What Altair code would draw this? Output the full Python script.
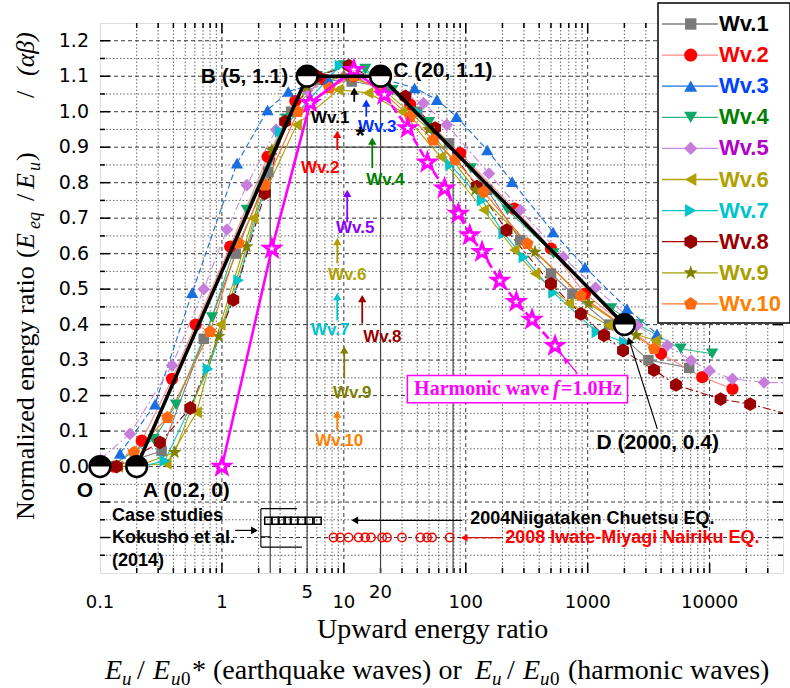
import altair as alt
import pandas as pd

# ---------------- data ----------------
NAMES = ["Wv.1", "Wv.2", "Wv.3", "Wv.4", "Wv.5", "Wv.6", "Wv.7", "Wv.8", "Wv.9", "Wv.10"]

X1 = [0.13, 0.32, 0.71, 1.3, 2.4, 3.7, 6.5, 11.6, 22, 40, 73, 150, 280, 500, 750, 1500, 3150, 6800]
Y1 = [0.0, 0.044, 0.36, 0.60, 0.83, 1.0, 1.09, 1.085, 1.07, 1.0, 0.911, 0.78, 0.638, 0.544, 0.487, 0.40, 0.30, 0.278]
X2 = [0.13, 0.22, 0.39, 0.61, 1.17, 2.37, 4.0, 7, 12, 20, 35, 90, 250, 500, 950, 2000, 4000, 8700, 15400]
Y2 = [0.0, 0.073, 0.247, 0.40, 0.62, 0.873, 1.03, 1.09, 1.10, 1.08, 1.02, 0.883, 0.727, 0.614, 0.487, 0.40, 0.318, 0.252, 0.219]
X3 = [0.146, 0.283, 0.57, 1.33, 2.37, 3.5, 7.5, 12, 22, 38, 58, 84, 150, 240, 520, 950, 2100, 3700]
Y3 = [0.037, 0.176, 0.49, 0.855, 1.005, 1.057, 1.09, 1.11, 1.09, 1.067, 1.034, 0.986, 0.892, 0.803, 0.661, 0.562, 0.445, 0.374]
X4 = [0.12, 0.275, 0.42, 0.83, 1.6, 3.36, 6, 10, 15, 25, 50, 110, 220, 525, 1560, 2600, 5800, 10500]
Y4 = [0.0, 0.077, 0.174, 0.42, 0.723, 0.98, 1.10, 1.13, 1.12, 1.06, 0.97, 0.84, 0.723, 0.60, 0.445, 0.40, 0.332, 0.318]
X5 = [0.1, 0.176, 0.39, 0.71, 1.1, 1.6, 2.78, 5, 10, 20, 45, 70, 155, 280, 630, 1160, 2540, 4500, 7050, 10000, 15400, 28000, 48000]
Y5 = [0.02, 0.092, 0.285, 0.50, 0.668, 0.793, 0.949, 1.06, 1.10, 1.08, 1.024, 0.963, 0.826, 0.723, 0.59, 0.504, 0.398, 0.341, 0.299, 0.27, 0.247, 0.237, 0.236]
X6 = [0.14, 0.35, 0.62, 0.97, 1.8, 4.1, 9, 15.8, 30, 62, 140, 250, 370, 700, 1480, 3600]
Y6 = [0.0, 0.008, 0.153, 0.40, 0.70, 0.963, 1.062, 1.053, 1.0, 0.873, 0.723, 0.61, 0.544, 0.46, 0.398, 0.355]
X7 = [0.22, 0.34, 0.77, 1.37, 3.0, 9.3, 20, 40, 75, 136, 205, 300, 525, 1190, 2000]
Y7 = [0.0, 0.016, 0.275, 0.525, 0.944, 1.13, 1.10, 1.0, 0.85, 0.75, 0.657, 0.59, 0.49, 0.379, 0.35]
X8 = [0.137, 0.31, 0.55, 1.24, 2.25, 3.3, 6, 11, 32, 56, 123, 216, 500, 880, 1360, 1950, 3500, 5300, 12300, 21500, 50000]
Y8 = [0.0, 0.068, 0.165, 0.47, 0.77, 0.972, 1.10, 1.13, 1.043, 0.954, 0.789, 0.666, 0.515, 0.43, 0.37, 0.327, 0.272, 0.23, 0.19, 0.176, 0.143]
X9 = [0.2, 0.41, 0.94, 1.6, 2.57, 5, 10, 20, 50, 120, 370, 1020, 2500]
Y9 = [0.0, 0.04, 0.367, 0.62, 0.892, 1.07, 1.10, 1.07, 0.95, 0.78, 0.605, 0.46, 0.37]
X10 = [0.19, 0.357, 0.8, 1.37, 2.25, 4.2, 7.6, 12, 20, 35, 54, 82, 140, 320, 880, 3500]
Y10 = [0.04, 0.138, 0.38, 0.63, 0.793, 1.0, 1.067, 1.10, 1.06, 0.986, 0.92, 0.864, 0.774, 0.628, 0.482, 0.332]
SER_X = [X1, X2, X3, X4, X5, X6, X7, X8, X9, X10]
SER_Y = [Y1, Y2, Y3, Y4, Y5, Y6, Y7, Y8, Y9, Y10]

HARM_X = [1.0, 2.57, 5.3, 12.1, 21.5, 33.4, 48.5, 67, 87, 108, 136, 190, 260, 350, 540]
HARM_Y = [0.0, 0.614, 1.025, 1.118, 1.048, 0.954, 0.857, 0.784, 0.713, 0.652, 0.605, 0.524, 0.464, 0.414, 0.34]

REF_X = [0.2, 5, 20, 2000]
REF_Y = [0.0, 1.1, 1.1, 0.4]
KEY_X = [0.1, 0.2, 5, 20, 2000]
KEY_Y = [0.0, 0.0, 1.1, 1.1, 0.4]
KEY_TEXT = ["O", "A (0.2, 0)", "B (5, 1.1)", "C (20, 1.1)", "D (2000, 0.4)"]
KEY_TX = [0.0753, 0.2255, 3.5, 25.4, 1180]
KEY_TY = [-0.069, -0.069, 1.099, 1.116, 0.067]
KEY_ALIGN = ["center", "left", "right", "left", "left"]

NIIGATA_X = [2.4, 2.75, 3.1, 3.45, 3.9, 4.5, 5.2, 6.1]
NIIGATA_Y = [-0.153] * 8
IWATE_X = [8.23, 9.34, 10.93, 13.2, 14.98, 16.7, 20.6, 22.6, 30, 42.4, 48.1, 52.9, 73.8]
IWATE_Y = [-0.2] * 13

WV_TX = [7.73, 6.4, 18.8, 21.9, 12.4, 10.66, 7.73, 20.7, 11.7, 9.16]
WV_TY = [0.983, 0.841, 0.957, 0.807, 0.672, 0.539, 0.384, 0.364, 0.206, 0.073]
WV_AX = [12.17, 8.83, 15.27, 17.11, 10.66, 8.83, 8.83, 14.16, 10.08, 8.83]
WV_AY1 = [1.028, 0.892, 0.986, 0.841, 0.688, 0.573, 0.412, 0.403, 0.248, 0.101]
WV_AY2 = [1.070, 0.948, 1.036, 0.929, 0.782, 0.646, 0.491, 0.485, 0.341, 0.160]

XLABELS = [0.1, 1, 10, 100, 1000, 10000]
XLABEL_TEXT = ["0.1", "1", "10", "100", "1000", "10000"]
XLABELS_EXTRA = [5, 20]
YLABELS = [round(0.1 * i, 1) for i in range(13)]

# ---------------- styles ----------------
W, H = 683, 550
XS = alt.Scale(type="log", domain=[0.1, 40000])
YS = alt.Scale(domain=[-0.3, 1.25])

HEX = "M0,-1L0.866,-0.5L0.866,0.5L0,1L-0.866,0.5L-0.866,-0.5Z"
PENT = "M0,-1L0.951,-0.309L0.588,0.809L-0.588,0.809L-0.951,-0.309Z"
STAR = ("M0,-1L0.235,-0.324L0.951,-0.309L0.380,0.124L0.588,0.809L0,0.4"
        "L-0.588,0.809L-0.380,0.124L-0.951,-0.309L-0.235,-0.324Z")
HALF_TOP = "M-1,0A1,1,0,0,1,1,0Z"

SHAPES = ["square", "circle", "triangle-up", "triangle-down", "diamond",
          "triangle-left", "triangle-right", HEX, STAR, PENT]
SIZES = [110, 150, 150, 150, 160, 150, 150, 190, 210, 175]
FILLS = ["#7a7a7a", "#ff0000", "#1a6fe0", "#10a868", "#c77ddb",
         "#b0a000", "#00c4cc", "#990000", "#808000", "#ff6a10"]
LINES = ["#808080", "#ff8a8a", "#1a6fe0", "#30b880", "#c98ae0",
         "#b0a000", "#00c4cc", "#a00000", "#a0a000", "#ff7020"]
DASHES = [None, None, [6, 3], None, [8, 3, 2, 3], None, None, [8, 3, 2, 3], None, None]
LEG_COL = ["#000000", "#ff0000", "#0040ff", "#008000", "#b400c8",
           "#b0a000", "#00c4cc", "#990000", "#a8a000", "#ff8000"]
ANN_COL = ["#000000", "#ff0000", "#0033ff", "#008000", "#8a00ff",
           "#b0a000", "#00c4cc", "#990000", "#808000", "#ff8000"]
MAG = "#ff00ff"
SANS = "Liberation Sans"
SERIF = "Liberation Serif"

ONE = pd.DataFrame({"a": [0]})


def xq(f="x"):
    return alt.X(f"{f}:Q", scale=XS, axis=None)


def yq(f="y"):
    return alt.Y(f"{f}:Q", scale=YS, axis=None)


def df(**cols):
    return pd.DataFrame(cols)


def ptxt(px, py, s, size, font=SANS, weight="normal", style="normal",
         color="black", align="left", baseline="alphabetic", angle=0):
    return alt.Chart(pd.DataFrame({"t": [s]})).mark_text(
        align=align, baseline=baseline, fontSize=size, font=font,
        fontWeight=weight, fontStyle=style, color=color, angle=angle
    ).encode(x=alt.value(px), y=alt.value(py), text="t:N")


def dtxt(x, y, s, size, color="black", align="left", weight="bold", font=SANS, style="normal"):
    return alt.Chart(pd.DataFrame({"x": [x], "y": [y], "t": [s]})).mark_text(
        align=align, baseline="middle", fontSize=size, font=font,
        fontWeight=weight, fontStyle=style, color=color
    ).encode(x=xq(), y=yq(), text="t:N")


layers = []

# ---------------- grid ----------------
xmin = [m * 10.0 ** k for k in range(-1, 5) for m in range(2, 10) if m * 10.0 ** k < 40000]
xmaj = [1, 10, 100, 1000, 10000]
ymaj = [round(-0.2 + 0.1 * i, 2) for i in range(15)]
ymin = [round(-0.25 + 0.1 * i, 2) for i in range(15)]

layers.append(alt.Chart(df(x=xmin)).mark_rule(color="#555555", strokeWidth=0.9, strokeDash=[1.5, 2])
              .encode(x=xq()))
layers.append(alt.Chart(df(y=ymin)).mark_rule(color="#555555", strokeWidth=0.9, strokeDash=[1.5, 2])
              .encode(y=yq()))
layers.append(alt.Chart(df(x=xmaj)).mark_rule(color="#222222", strokeWidth=0.9, strokeDash=[4, 3])
              .encode(x=xq()))
layers.append(alt.Chart(df(y=ymaj)).mark_rule(color="#222222", strokeWidth=0.9, strokeDash=[4, 3])
              .encode(y=yq()))

# inward ticks on all four sides
for xv, ln in ((xmaj, 10), (xmin, 5)):
    layers.append(alt.Chart(df(x=xv)).mark_rule(color="black", strokeWidth=1.5)
                  .encode(x=xq(), y=alt.value(H), y2=alt.value(H - ln)))
    layers.append(alt.Chart(df(x=xv)).mark_rule(color="black", strokeWidth=1.5)
                  .encode(x=xq(), y=alt.value(0), y2=alt.value(ln)))
for yv, ln in ((ymaj, 10), (ymin, 5)):
    layers.append(alt.Chart(df(y=yv)).mark_rule(color="black", strokeWidth=1.5)
                  .encode(y=yq(), x=alt.value(0), x2=alt.value(ln)))
    layers.append(alt.Chart(df(y=yv)).mark_rule(color="black", strokeWidth=1.5)
                  .encode(y=yq(), x=alt.value(W), x2=alt.value(W - ln)))

# tick labels
layers.append(alt.Chart(df(x=XLABELS, t=XLABEL_TEXT))
              .mark_text(baseline="middle", align="center", fontSize=18, font="DejaVu Sans", color="black")
              .encode(x=xq(), y=alt.value(H + 30), text="t:N"))
layers.append(alt.Chart(df(x=XLABELS_EXTRA, t=[str(v) for v in XLABELS_EXTRA]))
              .mark_text(baseline="middle", align="center", fontSize=18, font="DejaVu Sans", color="black")
              .encode(x=xq(), y=alt.value(H + 20), text="t:N"))
layers.append(alt.Chart(df(y=YLABELS, t=["%.1f" % v for v in YLABELS]))
              .mark_text(baseline="middle", align="right", fontSize=19, font="DejaVu Sans", color="black")
              .encode(y=yq(), x=alt.value(-11), text="t:N"))

# solid guide lines
VL_X = [2.49, 5, 20, 78.7]
VL_TOP = [0.9, 1.1, 1.1, 0.9]
layers.append(alt.Chart(df(x=VL_X, y=VL_TOP, y2=[-0.3] * 4)).mark_rule(color="#444444", strokeWidth=1.2)
              .encode(x=xq(), y=yq(), y2="y2:Q"))
layers.append(alt.Chart(df(x=[2.49], x2=[78.7], y=[0.9])).mark_rule(color="#444444", strokeWidth=1.2)
              .encode(x=xq(), x2="x2:Q", y=yq()))

# ---------------- series ----------------
for i in range(10):
    d = df(x=SER_X[i], y=SER_Y[i])
    lkw = dict(color=LINES[i], strokeWidth=1.1, clip=True)
    if DASHES[i]:
        lkw["strokeDash"] = DASHES[i]
    layers.append(alt.Chart(d).mark_line(**lkw).encode(x=xq(), y=yq(), order="x:Q"))
for i in range(10):
    d = df(x=SER_X[i], y=SER_Y[i])
    layers.append(alt.Chart(d).mark_point(shape=SHAPES[i], size=SIZES[i], filled=True, color=FILLS[i],
                                          opacity=1, strokeWidth=0, clip=True)
                  .encode(x=xq(), y=yq()))

# harmonic wave
hd = df(x=HARM_X, y=HARM_Y)
layers.append(alt.Chart(df(x=HARM_X[:5], y=HARM_Y[:5])).mark_line(color=MAG, strokeWidth=2.6)
              .encode(x=xq(), y=yq(), order="x:Q"))
layers.append(alt.Chart(df(x=HARM_X[4:], y=HARM_Y[4:])).mark_line(color=MAG, strokeWidth=2.6,
                                                                   strokeDash=[9, 4])
              .encode(x=xq(), y=yq(), order="x:Q"))
layers.append(alt.Chart(hd).mark_point(shape=STAR, size=260, filled=True, fill="white", stroke=MAG,
                                       strokeWidth=3, opacity=1)
              .encode(x=xq(), y=yq()))

# reference line O-A-B-C-D
layers.append(alt.Chart(df(x=REF_X, y=REF_Y)).mark_line(color="black", strokeWidth=3.5)
              .encode(x=xq(), y=yq(), order="x:Q"))

# ---------------- annotations ----------------
# D leader
layers.append(alt.Chart(df(x=[3724], x2=[2173], y=[0.106], y2=[0.36])).mark_rule(color="black", strokeWidth=1.2)
              .encode(x=xq(), x2="x2:Q", y=yq(), y2="y2:Q"))
layers.append(alt.Chart(df(x=[2190], y=[0.355])).mark_point(shape="triangle-up", size=70, filled=True,
                                                            color="black", opacity=1, angle=342)
              .encode(x=xq(), y=yq()))

# key points (half filled circles)
kd = df(x=KEY_X, y=KEY_Y)
layers.append(alt.Chart(kd).mark_point(shape="circle", size=430, filled=True, fill="white", stroke="black",
                                       strokeWidth=2.5, opacity=1)
              .encode(x=xq(), y=yq()))
layers.append(alt.Chart(kd).mark_point(shape=HALF_TOP, size=430, filled=True, color="black", opacity=1)
              .encode(x=xq(), y=yq()))
for t, x, y, a in zip(KEY_TEXT, KEY_TX, KEY_TY, KEY_ALIGN):
    layers.append(dtxt(x, y, t, 21, align=a))

# Wv.n labels with arrows
for i in range(10):
    layers.append(alt.Chart(df(x=[WV_AX[i]], y=[WV_AY1[i]], y2=[WV_AY2[i] - 0.02]))
                  .mark_rule(color=ANN_COL[i], strokeWidth=1.8).encode(x=xq(), y=yq(), y2="y2:Q"))
    layers.append(alt.Chart(df(x=[WV_AX[i]], y=[WV_AY2[i] - 0.012]))
                  .mark_point(shape="triangle-up", size=70, filled=True, color=ANN_COL[i], opacity=1)
                  .encode(x=xq(), y=yq()))
    layers.append(dtxt(WV_TX[i], WV_TY[i], NAMES[i], 17, color=ANN_COL[i], align="center"))
layers.append(dtxt(13.6, 0.93, "*", 24, align="center"))

# harmonic label box and leader
layers.append(alt.Chart(df(x=[33.2], x2=[2123], y=[0.2564], y2=[0.180]))
              .mark_rect(fill="white", stroke=MAG, strokeWidth=1.5)
              .encode(x=xq(), x2="x2:Q", y=yq(), y2="y2:Q"))
layers.append(alt.Chart(df(x=[824], x2=[576], y=[0.262], y2=[0.327])).mark_rule(color=MAG, strokeWidth=1.3)
              .encode(x=xq(), x2="x2:Q", y=yq(), y2="y2:Q"))
layers.append(alt.Chart(df(x=[660], y=[0.30])).mark_point(shape="triangle-up", size=45, filled=True,
                                                          color=MAG, opacity=1, angle=319)
              .encode(x=xq(), y=yq()))
layers.append(dtxt(37.7, 0.218, "Harmonic wave", 20, color=MAG, font=SERIF))
layers.append(dtxt(520, 0.218, "f", 20, color=MAG, font=SERIF, style="italic"))
layers.append(dtxt(605, 0.218, "=1.0Hz", 20, color=MAG, font=SERIF))

# case studies
layers.append(dtxt(0.1255, -0.139, "Case studies", 18))
layers.append(dtxt(0.1255, -0.2015, "Kokusho et al.", 18))
layers.append(dtxt(0.1255, -0.2665, "(2014)", 18))
layers.append(alt.Chart(df(x=[1.283], x2=[1.85], y=[-0.18])).mark_rule(color="black", strokeWidth=1.2)
              .encode(x=xq(), x2="x2:Q", y=yq()))
layers.append(alt.Chart(df(x=[1.85], y=[-0.18])).mark_point(shape="triangle-right", size=60, filled=True,
                                                            color="black", opacity=1)
              .encode(x=xq(), y=yq()))
layers.append(alt.Chart(df(x=[2.086, 2.086, 2.086, 2.086], x2=[2.086, 4.12, 4.53, 2.49],
                           y=[-0.1187, -0.1187, -0.227, -0.198], y2=[-0.227, -0.1187, -0.227, -0.198]))
              .mark_rule(color="black", strokeWidth=1.1)
              .encode(x=xq(), x2="x2:Q", y=yq(), y2="y2:Q"))
layers.append(alt.Chart(df(x=NIIGATA_X, y=NIIGATA_Y)).mark_point(shape="square", size=50, filled=False,
                                                                 color="black", strokeWidth=1.5, opacity=1)
              .encode(x=xq(), y=yq()))
layers.append(alt.Chart(df(x=IWATE_X, y=IWATE_Y)).mark_point(shape="circle", size=70, filled=False,
                                                             color="#ff0000", strokeWidth=1.5, opacity=1)
              .encode(x=xq(), y=yq()))
layers.append(alt.Chart(df(x=[93.8], x2=[12.3], y=[-0.1515])).mark_rule(color="black", strokeWidth=1.2)
              .encode(x=xq(), x2="x2:Q", y=yq()))
layers.append(alt.Chart(df(x=[12.3], y=[-0.1515])).mark_point(shape="triangle-left", size=60, filled=True,
                                                              color="black", opacity=1)
              .encode(x=xq(), y=yq()))
layers.append(dtxt(109, -0.148, "2004Niigataken Chuetsu EQ.", 18))
layers.append(alt.Chart(df(x=[192], x2=[97], y=[-0.2007])).mark_rule(color="#ff0000", strokeWidth=1.3,
                                                                     strokeDash=[5, 2])
              .encode(x=xq(), x2="x2:Q", y=yq()))
layers.append(alt.Chart(df(x=[97], y=[-0.2007])).mark_point(shape="triangle-left", size=60, filled=True,
                                                            color="#ff0000", opacity=1)
              .encode(x=xq(), y=yq()))
layers.append(dtxt(211, -0.2007, "2008 Iwate-Miyagi Nairiku EQ.", 18, color="#ff0000"))

# ---------------- legend ----------------
layers.append(alt.Chart(ONE).mark_rect(fill="white", stroke="black", strokeWidth=1.5)
              .encode(x=alt.value(558), x2=alt.value(690), y=alt.value(-20), y2=alt.value(300)))
for i in range(10):
    ry = 1 + 31.1 * i
    layers.append(alt.Chart(ONE).mark_rule(color=LINES[i], strokeWidth=1.3)
                  .encode(x=alt.value(562), x2=alt.value(618), y=alt.value(ry)))
    layers.append(alt.Chart(ONE).mark_point(shape=SHAPES[i], size=SIZES[i] + 20, filled=True, color=FILLS[i],
                                            opacity=1, strokeWidth=0)
                  .encode(x=alt.value(590.7), y=alt.value(ry)))
    layers.append(ptxt(619, ry, NAMES[i], 22, weight="bold", color=LEG_COL[i], baseline="middle"))

# ---------------- axis titles ----------------
layers.append(ptxt(217, 615, "Upward energy ratio", 28, font=SERIF))
L2 = 656
S2 = 662
for px, s, sz, st, base in [
    (5, "E", 28, "italic", L2), (22, "u", 19, "italic", S2), (37, "/", 28, "normal", L2),
    (53, "E", 28, "italic", L2), (71, "u", 19, "italic", S2), (81, "0", 19, "normal", S2),
    (92, "* (earthquake waves) or", 28, "normal", L2),
    (375, "E", 28, "italic", L2), (392, "u", 19, "italic", S2), (407, "/", 28, "normal", L2),
    (423, "E", 28, "italic", L2), (440, "u", 19, "italic", S2), (450, "0", 19, "normal", S2),
    (468, "(harmonic waves)", 28, "normal", L2)]:
    layers.append(ptxt(px, base, s, sz, font=SERIF, style=st))

YB = -66
for py, s, sz, st, xb in [
    (497, "Normalized energy ratio", 26, "normal", YB),
    (235, "(", 26, "normal", YB), (226, "E", 26, "italic", YB), (206, "eq", 18, "italic", YB + 6),
    (178, "/", 26, "normal", YB), (166, "E", 26, "italic", YB), (148, "u", 18, "italic", YB + 6),
    (138, ")", 26, "normal", YB), (75, "/", 26, "normal", YB), (53, "(αβ)", 26, "italic", YB)]:
    layers.append(ptxt(xb, py, s, sz, font=SERIF, style=st, angle=270))

chart = alt.layer(*layers).properties(
    width=W, height=H,
    autosize=alt.AutoSizeParams(type="none"),
    padding={"left": 100, "top": 23, "right": 7, "bottom": 115},
).configure_view(stroke="black", strokeWidth=2).configure(background="white")

chart.save("out.html", embed_options={"renderer": "svg", "actions": False})
